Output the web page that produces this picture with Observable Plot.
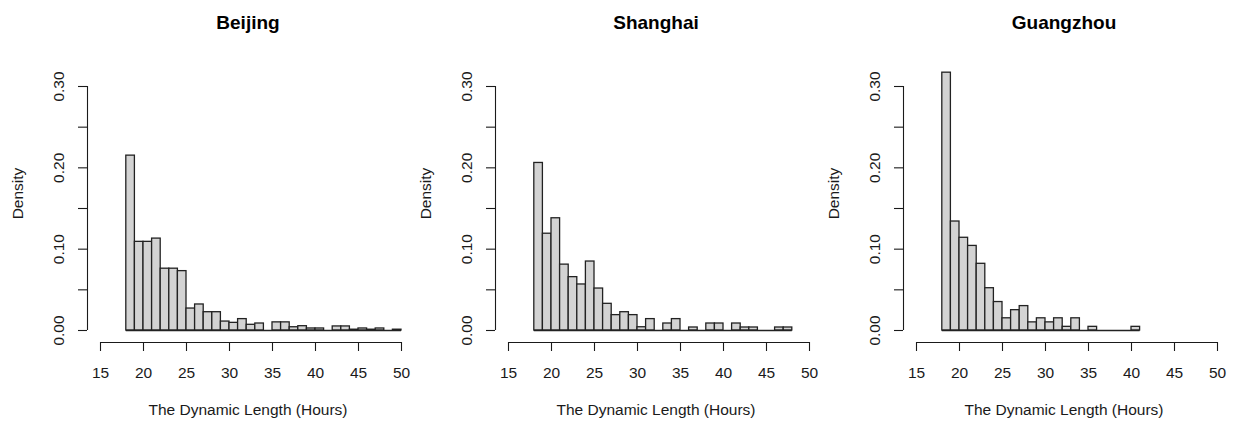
<!DOCTYPE html>
<html>
<head>
<meta charset="utf-8">
<script src="https://cdn.jsdelivr.net/npm/d3@7"></script>
<script src="https://cdn.jsdelivr.net/npm/@observablehq/plot@0.6"></script>
<style>
  html, body { margin: 0; padding: 0; background: #fff; }
  #wrap { position: relative; width: 1238px; height: 422px; overflow: hidden; background: #fff; }
  .panel { position: absolute; top: 0; width: 408px; height: 422px; }
  .panel svg { max-width: none !important; }
</style>
</head>
<body>
<div id="wrap"></div>
<script>
// ---- data (density per 1-hour bin, bins start at 18 h) ----
const cities = ["Beijing", "Shanghai", "Guangzhou"];
const binStart = 18;
const beijing = [0.215, 0.109, 0.109, 0.113, 0.076, 0.076, 0.073, 0.027, 0.032, 0.0225,
  0.0225, 0.011, 0.0094, 0.014, 0.007, 0.0086, 0, 0.010, 0.010, 0.004,
  0.0053, 0.0025, 0.0025, 0, 0.005, 0.005, 0.001, 0.0025, 0.001, 0.0025,
  0, 0.001];
const shanghai = [0.206, 0.119, 0.138, 0.081, 0.0656, 0.0566, 0.0848, 0.0516, 0.0328, 0.0189,
  0.0225, 0.0189, 0.004, 0.014, 0, 0.0086, 0.014, 0, 0.0037, 0,
  0.0086, 0.0086, 0, 0.0086, 0.0037, 0.0037, 0, 0, 0.0037, 0.0037];
const guangzhou = [0.317, 0.134, 0.114, 0.104, 0.082, 0.052, 0.035, 0.015, 0.025, 0.030,
  0.010, 0.015, 0.010, 0.015, 0.0045, 0.015, 0, 0.0045, 0, 0,
  0, 0, 0.0045];
const xTicks = [15, 20, 25, 30, 35, 40, 45, 50];
const yTicks = [0, 0.05, 0.10, 0.15, 0.20, 0.25, 0.30];
const yLabelTicks = [0, 0.10, 0.20, 0.30];
const xLabel = "The Dynamic Length (Hours)";
const yLabel = "Density";

const series = [beijing, shanghai, guangzhou];
const lefts = [0, 408, 816];
const font = "'Liberation Sans', Arial, Helvetica, sans-serif";
const ink = "#1a1a1a";

const wrap = document.getElementById("wrap");

series.forEach((vals, i) => {
  const bins = vals.map((v, k) => ({x1: binStart + k, x2: binStart + k + 1, y: v}));
  const binEnd = binStart + vals.length;
  const fmt = d3.format(".2f");
  const chart = Plot.plot({
    width: 408,
    height: 422,
    marginLeft: 87,
    marginRight: 0,
    marginTop: 86,
    marginBottom: 80,
    x: {domain: [xTicks[0], xTicks[xTicks.length - 1]], range: [100, 401]},
    y: {domain: [yTicks[0], yTicks[yTicks.length - 1]], range: [330, 86]},
    style: {fontFamily: font, fontSize: "15.5px", background: "transparent", color: ink, overflow: "visible"},
    marks: [
      Plot.rectY(bins, {x1: "x1", x2: "x2", y: "y", fill: "#d3d3d3", stroke: "#222", strokeWidth: 1.3}),
      Plot.ruleY([0], {x1: binStart, x2: binEnd, stroke: "#222", strokeWidth: 1.3}),
      // x axis (R style: line spanning ticks, offset below plot)
      Plot.ruleY([0], {x1: xTicks[0], x2: xTicks[xTicks.length - 1], dy: 12, stroke: ink, strokeWidth: 1.1}),
      Plot.axisX({ticks: xTicks, tickSize: 9, tickPadding: 15, label: null, strokeWidth: 1.1, tickFormat: d => String(d)}),
      // y axis
      Plot.ruleX([xTicks[0]], {y1: yTicks[0], y2: yTicks[yTicks.length - 1], dx: -13, stroke: ink, strokeWidth: 1.1}),
      Plot.axisY({ticks: yTicks, tickSize: 9, label: null, strokeWidth: 1.1, tickFormat: () => ""}),
      Plot.axisY({ticks: yLabelTicks, tickSize: 0, tickRotate: -90, tickPadding: 23.5, label: null, tickFormat: fmt}),
      // titles
      Plot.text([cities[i]], {frameAnchor: "top", dy: -64, textAnchor: "middle", lineAnchor: "middle", fontWeight: "bold", fontSize: 19, fill: "#000"}),
      Plot.text([xLabel], {frameAnchor: "bottom", dy: 68, textAnchor: "middle", lineAnchor: "middle", fontSize: 15.5, fill: ink}),
      Plot.text([yLabel], {frameAnchor: "left", dx: -69, dy: -21, rotate: -90, textAnchor: "middle", lineAnchor: "middle", fontSize: 15.5, fill: ink})
    ]
  });
  const div = document.createElement("div");
  div.className = "panel";
  div.style.left = lefts[i] + "px";
  div.appendChild(chart);
  wrap.appendChild(div);
});
</script>
</body>
</html>
